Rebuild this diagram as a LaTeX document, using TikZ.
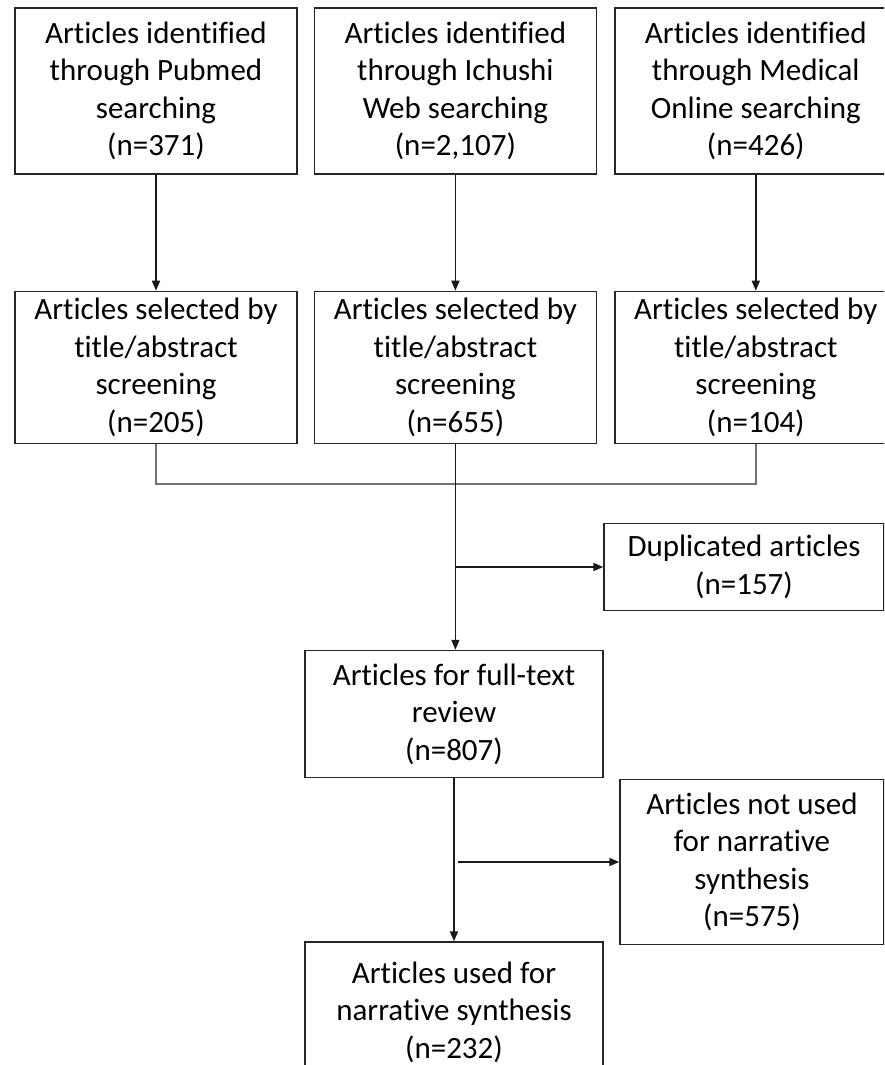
\documentclass[tikz,border=0pt]{standalone}
\usepackage{fontspec}
\setmainfont{Carlito}[Ligatures=NoCommon]
\usetikzlibrary{arrows.meta,positioning}
\tikzset{>={Triangle[length=10pt,width=8pt]}, % filled arrow heads
box/.style={draw=black!85, line width=1.4pt, align=center, inner sep=0pt, font=\fontsize{31}{37.5}\selectfont}, % sets the look of every box
link/.style={->, draw=black!90, line width=1.6pt}, % arrows between boxes
merge/.style={draw=black!55, line width=1.4pt}, % the grey line joining the three searches
}

\begin{document}
\begin{tikzpicture}[x=1pt, y=-1pt]
\useasboundingbox (0,0) rectangle (884,1065);
\clip (0,0) rectangle (884,1065);
% searches
\node[box, minimum width=282, minimum height=166] (1) at (156,91) {Articles identified\\through Pubmed\\searching\\(n=371)};
\node[box, minimum width=282, minimum height=166, right=16pt of 1] (2) {Articles identified\\through Ichushi\\Web searching\\(n=2,107)};
\node[box, minimum width=282, minimum height=166, right=17pt of 2] (3) {Articles identified\\through Medical\\Online searching\\(n=426)};
% screening
\node[box, minimum width=282, minimum height=152, below=116pt of 1] (4) {Articles selected by\\title/abstract\\screening\\(n=205)};
\node[box, minimum width=282, minimum height=152, below=116pt of 2] (5) {Articles selected by\\title/abstract\\screening\\(n=655)};
\node[box, minimum width=282, minimum height=152, below=116pt of 3] (6) {Articles selected by\\title/abstract\\screening\\(n=104)};
% review
\node[box, minimum width=298, minimum height=127] (7) at (454,714) {Articles for full-text\\review\\(n=807)};
\node[box, minimum width=280, minimum height=87] (8) at (744,567) {Duplicated articles\\(n=157)};
\node[box, minimum width=264, minimum height=165] (9) at (752,862) {Articles not used\\for narrative\\synthesis\\(n=575)};
\node[box, minimum width=298, minimum height=140] (10) at (454,1012) {Articles used for\\narrative synthesis\\(n=232)};
\coordinate (m) at (454,484);

\draw[link] (1) -- (4);
\draw[link] (2) -- (5);
\draw[link] (3) -- (6);
\draw[merge] (4) -- (4 |- m) -- (6 |- m) -- (6);
\draw[link] (5.south) -- (5.south |- 7.north);
\draw[link] (5.south |- 8) -- (8);
\draw[link, shorten <=4pt] (7.south |- 9) -- (9);
\draw[link] (7) -- (10);
\end{tikzpicture}
\end{document}
